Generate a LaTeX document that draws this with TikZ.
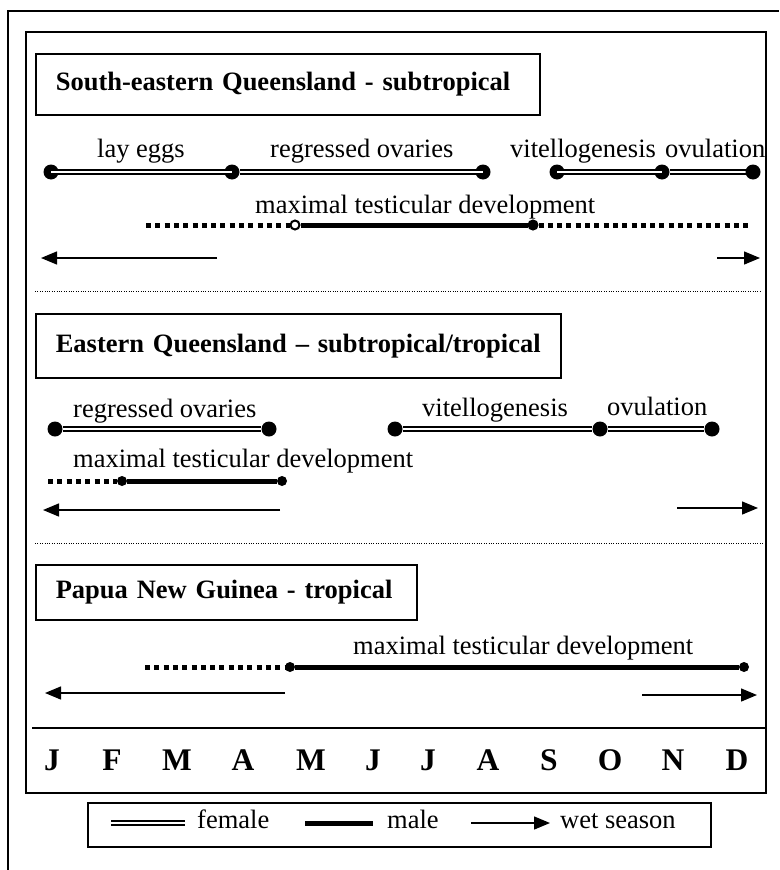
\documentclass[tikz,border=0pt]{standalone}
\usepackage{fontspec}
\setmainfont{Liberation Serif}
\usetikzlibrary{arrows.meta}
\begin{document}
\begin{tikzpicture}[x=1pt,y=-1pt,
  lbl/.style={anchor=base west,inner sep=0pt,font=\fontsize{26.5}{30}\selectfont},
  mon/.style={anchor=base,inner sep=0pt,font=\fontsize{31.5}{34}\selectfont\bfseries},
  titlebox/.style={draw,line width=1.6pt,anchor=north west,inner xsep=20pt,align=left,
    font=\fontsize{26.5}{30}\selectfont\bfseries},
  fem/.style={draw=black,double=white,line width=2.3pt,double distance=2.2pt},
  malel/.style={line width=5pt},
  maledash/.style={line width=5pt,dash pattern=on 5pt off 4.3pt},
  wet/.style={line width=1.4pt,-{Triangle[length=16pt,width=13pt]}},
  fdot/.style={circle,fill=black,inner sep=0pt,minimum size=15pt},
  mdot/.style={circle,fill=black,inner sep=0pt,minimum size=10pt},
  odot/.style={circle,draw=black,fill=white,line width=2pt,inner sep=0pt,minimum size=9pt},
  sep/.style={line width=0.8pt,dash pattern=on 0.8pt off 1.6pt}]
\useasboundingbox (0,0) rectangle (779,870);
% frames
\draw[line width=1.2pt] (8,870) -- (8,11) -- (779,11);
\draw[line width=1.6pt] (26,32) rectangle (766,793);

% ---------- Row 1 ----------
\node[titlebox,text width=464pt,minimum height=61pt] (t1) at (35,53) {South-eastern Queensland - subtropical};
\node[lbl] (l1a) at (97,157) {lay eggs};
\node[lbl] (l1b) at (270,157) {regressed ovaries};
\node[lbl] (l1c) at (510,157) {vitellogenesis};
\node[lbl] (l1d) at (665,157) {ovulation};
\node[lbl] (l1m) at (255,213) {maximal testicular development};

\node[fdot] (a1) at (51,172) {};
\node[fdot] (a2) at (232,172) {};
\node[fdot] (a3) at (483,172) {};
\node[fdot] (a4) at (557,172) {};
\node[fdot] (a5) at (662,172) {};
\draw[fem] (a1.center) -- (a2.center);
\draw[fem] (a2) -- (a3.center);
\draw[fem] (a4.center) -- (a5.center);
\draw[fem] (a5) -- (753,172) coordinate (a6c);
\node[fdot] (a6) at (a6c) {};

\coordinate (m1s) at (146,225);
\coordinate (m1e) at (752,225);
\node[odot] (m1a) at (295,225) {};
\node[odot,fill=black] (m1b) at (533,225) {};
\draw[maledash] (m1s) -- (m1a);
\draw[malel] (m1a) -- (m1b);
\draw[maledash] (m1b) -- (m1e);

\coordinate (w1a) at (217,258);
\coordinate (w1b) at (41,258);
\coordinate (w1c) at (717,258);
\coordinate (w1d) at (760,258);
\draw[wet] (w1a) -- (w1b);
\draw[wet] (w1c) -- (w1d);

\draw[sep] (35,291) -- (761,291);

% ---------- Row 2 ----------
\node[titlebox,text width=485pt,minimum height=64pt] (t2) at (35,313) {Eastern Queensland -- subtropical/tropical};
\node[lbl] (l2a) at (73,417) {regressed ovaries};
\node[lbl] (l2b) at (422,416) {vitellogenesis};
\node[lbl] (l2c) at (607,415) {ovulation};
\node[lbl] (l2m) at (73,467) {maximal testicular development};

\node[fdot] (b1) at (55,429) {};
\node[fdot] (b2) at (269,429) {};
\node[fdot] (b3) at (395,429) {};
\node[fdot] (b4) at (600,429) {};
\node[fdot] (b5) at (712,429) {};
\draw[fem] (b1) -- (b2);
\draw[fem] (b3) -- (b4);
\draw[fem] (b4) -- (b5);

\coordinate (m2s) at (48,481);
\node[mdot] (m2a) at (122,481) {};
\node[mdot] (m2b) at (282,481) {};
\draw[maledash] (m2s) -- (m2a);
\draw[malel] (m2a) -- (m2b);

\coordinate (w2a) at (280,510);
\coordinate (w2b) at (43,510);
\coordinate (w2c) at (677,508);
\coordinate (w2d) at (758,508);
\draw[wet] (w2a) -- (w2b);
\draw[wet] (w2c) -- (w2d);

\draw[sep] (35,543) -- (763,543);

% ---------- Row 3 ----------
\node[titlebox,text width=341pt,minimum height=55pt] (t3) at (35,564) {Papua New Guinea - tropical};
\node[lbl] (l3m) at (353,654) {maximal testicular development};
\coordinate (m3s) at (145,667);
\node[mdot] (m3a) at (290,667) {};
\node[mdot] (m3b) at (744,667) {};
\draw[maledash] (m3s) -- (m3a);
\draw[malel] (m3a) -- (m3b);

\coordinate (w3a) at (285,693);
\coordinate (w3b) at (45,693);
\coordinate (w3c) at (642,695);
\coordinate (w3d) at (757,695);
\draw[wet] (w3a) -- (w3b);
\draw[wet] (w3c) -- (w3d);

\draw[line width=1.3pt] (32,728) -- (766,728);

% ---------- Months ----------
\foreach \m/\x/\n in {J/52/jan,F/112/feb,M/177/mar,A/243/apr,M/311/may,J/373/jun,J/428/jul,A/488/aug,S/549/sep,O/610/oct,N/673/nov,D/737/dec}
  \node[mon] (\n) at (\x,770) {\m};

% ---------- Legend ----------
\node[draw,line width=1.6pt,anchor=north west,minimum width=623pt,minimum height=44pt,inner sep=0pt] (leg) at (87,802) {};
\coordinate (lf1) at (111,823);
\coordinate (lf2) at (185,823);
\draw[fem] (lf1) -- (lf2);
\node[lbl] (lfem) at (197,828) {female};
\coordinate (lm1) at (305,823);
\coordinate (lm2) at (373,823);
\draw[malel] (lm1) -- (lm2);
\node[lbl] (lmal) at (387,828) {male};
\coordinate (lw1) at (471,823);
\coordinate (lw2) at (550,823);
\draw[wet] (lw1) -- (lw2);
\node[lbl] (lwet) at (560,828) {wet season};
\end{tikzpicture}
\end{document}
